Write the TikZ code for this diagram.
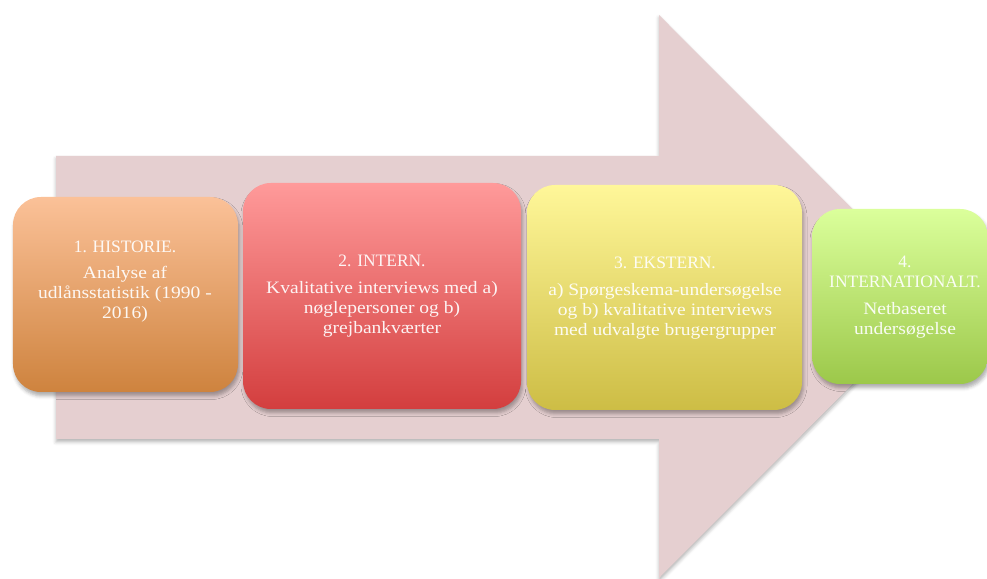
\documentclass[tikz,border=0pt]{standalone}
\usepackage{fontspec}
\setmainfont{Liberation Serif}
\newfontfamily\bodyfont[FakeStretch=1.12]{Liberation Serif}
\usetikzlibrary{shadows.blur}
\definecolor{arrowpink}{HTML}{E5CFD0}
\definecolor{orTop}{HTML}{FBC198}
\definecolor{orBot}{HTML}{CE833E}
\definecolor{rdTop}{HTML}{FF9A9A}
\definecolor{rdBot}{HTML}{D33E3E}
\definecolor{yeTop}{HTML}{FFF799}
\definecolor{yeBot}{HTML}{CDBD45}
\definecolor{grTop}{HTML}{DBFF9B}
\definecolor{grBot}{HTML}{9CC84A}
\begin{document}
\begin{tikzpicture}[x=1bp,y=1bp,
  softshadow/.style={blur shadow={shadow xshift=1.5bp, shadow yshift=-4bp, shadow blur radius=3.5bp, shadow opacity=32}},
  stagebox/.style={rectangle, rounded corners=28bp, draw=none, inner sep=0pt, softshadow},
  stagetext/.style={text=white, text opacity=0.92, align=center, inner sep=0pt,
    font=\fontsize{17.5}{20}\selectfont}
]
\useasboundingbox (0,0) rectangle (987,579);
% big arrow
\path[fill=arrowpink, blur shadow={shadow xshift=0bp, shadow yshift=-3bp, shadow blur radius=3.5bp, shadow opacity=30}]
  (56,423) -- (659,423) -- (659,564) -- (940,282.5) -- (659,1) -- (659,140) -- (56,140) -- cycle;
% boxes
\node[stagebox, minimum width=225bp, minimum height=195bp, top color=orTop, bottom color=orBot] (b1) at (125.5,284.5) {};
\node[stagebox, minimum width=278bp, minimum height=226bp, top color=rdTop, bottom color=rdBot] (b2) at (382,283) {};
\node[stagebox, minimum width=275bp, minimum height=225bp, top color=yeTop, bottom color=yeBot] (b3) at (664.5,281.5) {};
\node[stagebox, minimum width=176bp, minimum height=175bp, top color=grTop, bottom color=grBot] (b4) at (900,282.5) {};
% texts
\node[stagetext] (t1) at (125,297.5) {1. HISTORIE.\\[7bp]\bodyfont Analyse af\\ \bodyfont udlånsstatistik (1990 -\\ \bodyfont 2016)};
\node[stagetext] (t2) at (382,283) {2. INTERN.\\[7bp]\bodyfont Kvalitative interviews med a)\\ \bodyfont nøglepersoner og b)\\ \bodyfont grejbankværter};
\node[stagetext] (t3) at (665,281) {3. EKSTERN.\\[7bp]\bodyfont a) Spørgeskema-undersøgelse\\ \bodyfont og b) kvalitative interviews\\ \bodyfont med udvalgte brugergrupper};
\node[stagetext] (t4) at (905,281.5) {4.\\ INTERNATIONALT.\\[7bp]\bodyfont Netbaseret\\ \bodyfont undersøgelse};
\end{tikzpicture}
\end{document}
